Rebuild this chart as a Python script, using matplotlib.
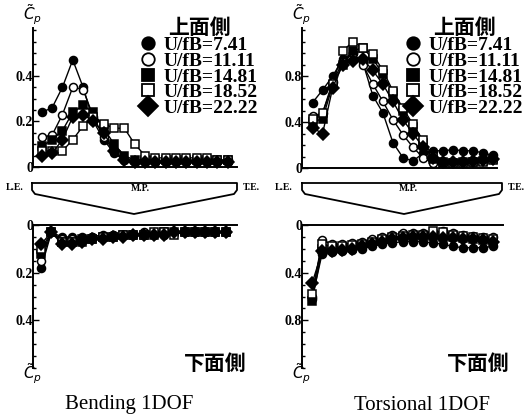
import matplotlib
matplotlib.use("Agg")
import matplotlib.pyplot as plt
from matplotlib.lines import Line2D
from matplotlib.font_manager import FontProperties
from matplotlib.ticker import MultipleLocator
import numpy as np

# pressure tap index (L.E. -> T.E.)
taps = np.arange(19)
labels = ["U/fB=7.41", "U/fB=11.11", "U/fB=14.81", "U/fB=18.52", "U/fB=22.22"]

# Bending 1DOF, upper surface
bend_up_741 = [0.24, 0.26, 0.35, 0.47, 0.35, 0.20, 0.12, 0.06, 0.03, 0.02, 0.02, 0.02, 0.02, 0.02, 0.02, 0.02, 0.02, 0.02, 0.02]
bend_up_1111 = [0.13, 0.14, 0.23, 0.35, 0.34, 0.22, 0.13, 0.07, 0.03, 0.02, 0.02, 0.02, 0.02, 0.03, 0.03, 0.03, 0.03, 0.03, 0.03]
bend_up_1481 = [0.09, 0.12, 0.16, 0.24, 0.27, 0.24, 0.17, 0.10, 0.05, 0.03, 0.03, 0.03, 0.03, 0.03, 0.03, 0.03, 0.03, 0.03, 0.03]
bend_up_1852 = [0.07, 0.07, 0.07, 0.12, 0.18, 0.22, 0.19, 0.17, 0.17, 0.10, 0.05, 0.04, 0.04, 0.04, 0.04, 0.04, 0.04, 0.03, 0.03]
bend_up_2222 = [0.05, 0.06, 0.12, 0.22, 0.23, 0.20, 0.15, 0.07, 0.03, 0.02, 0.02, 0.02, 0.02, 0.02, 0.02, 0.02, 0.02, 0.02, 0.02]

# Bending 1DOF, lower surface
bend_lo_741 = [0.18, 0.03, 0.05, 0.05, 0.05, 0.05, 0.04, 0.04, 0.04, 0.04, 0.04, 0.04, 0.04, 0.03, 0.03, 0.03, 0.03, 0.03, 0.03]
bend_lo_1111 = [0.15, 0.03, 0.06, 0.06, 0.06, 0.05, 0.05, 0.04, 0.04, 0.04, 0.03, 0.03, 0.03, 0.03, 0.03, 0.03, 0.03, 0.03, 0.03]
bend_lo_1481 = [0.12, 0.03, 0.07, 0.07, 0.06, 0.06, 0.05, 0.05, 0.04, 0.04, 0.04, 0.04, 0.03, 0.03, 0.03, 0.03, 0.03, 0.03, 0.03]
bend_lo_1852 = [0.10, 0.03, 0.07, 0.07, 0.07, 0.06, 0.05, 0.05, 0.04, 0.04, 0.04, 0.03, 0.03, 0.04, 0.03, 0.03, 0.03, 0.03, 0.03]
bend_lo_2222 = [0.08, 0.03, 0.08, 0.08, 0.07, 0.06, 0.06, 0.05, 0.05, 0.04, 0.04, 0.04, 0.04, 0.03, 0.03, 0.03, 0.03, 0.03, 0.03]

# Torsional 1DOF, upper surface
tors_up_741 = [0.57, 0.68, 0.80, 0.95, 1.00, 0.92, 0.63, 0.48, 0.22, 0.09, 0.06, 0.13, 0.15, 0.15, 0.16, 0.15, 0.15, 0.13, 0.11]
tors_up_1111 = [0.45, 0.48, 0.75, 0.92, 1.00, 0.90, 0.73, 0.58, 0.42, 0.29, 0.18, 0.09, 0.04, 0.04, 0.05, 0.05, 0.06, 0.07, 0.08]
tors_up_1481 = [0.40, 0.43, 0.72, 0.90, 1.02, 1.05, 0.95, 0.82, 0.65, 0.50, 0.36, 0.22, 0.08, 0.04, 0.04, 0.05, 0.05, 0.06, 0.08]
tors_up_1852 = [0.43, 0.48, 0.73, 1.02, 1.10, 1.05, 0.99, 0.85, 0.67, 0.52, 0.38, 0.24, 0.10, 0.05, 0.04, 0.04, 0.05, 0.05, 0.07]
tors_up_2222 = [0.35, 0.30, 0.70, 0.90, 0.93, 0.95, 0.85, 0.73, 0.58, 0.42, 0.30, 0.18, 0.09, 0.05, 0.05, 0.05, 0.06, 0.07, 0.08]

# Torsional 1DOF, lower surface
tors_lo_741 = [0.62, 0.24, 0.23, 0.22, 0.21, 0.20, 0.18, 0.16, 0.15, 0.14, 0.14, 0.14, 0.15, 0.16, 0.18, 0.19, 0.19, 0.19, 0.18]
tors_lo_1111 = [0.60, 0.13, 0.16, 0.16, 0.15, 0.14, 0.12, 0.10, 0.08, 0.07, 0.07, 0.07, 0.06, 0.05, 0.07, 0.08, 0.09, 0.10, 0.10]
tors_lo_1481 = [0.64, 0.20, 0.21, 0.20, 0.19, 0.17, 0.15, 0.13, 0.11, 0.10, 0.10, 0.09, 0.09, 0.10, 0.10, 0.11, 0.12, 0.13, 0.14]
tors_lo_1852 = [0.58, 0.16, 0.18, 0.18, 0.17, 0.16, 0.14, 0.12, 0.10, 0.09, 0.08, 0.08, 0.05, 0.06, 0.08, 0.09, 0.10, 0.11, 0.12]
tors_lo_2222 = [0.49, 0.22, 0.22, 0.21, 0.20, 0.18, 0.16, 0.14, 0.12, 0.11, 0.10, 0.10, 0.10, 0.11, 0.11, 0.12, 0.12, 0.13, 0.14]

bend_up = [bend_up_741, bend_up_1111, bend_up_1481, bend_up_1852, bend_up_2222]
bend_lo = [bend_lo_741, bend_lo_1111, bend_lo_1481, bend_lo_1852, bend_lo_2222]
tors_up = [tors_up_741, tors_up_1111, tors_up_1481, tors_up_1852, tors_up_2222]
tors_lo = [tors_lo_741, tors_lo_1111, tors_lo_1481, tors_lo_1852, tors_lo_2222]

markers = ["o", "o", "s", "s", "D"]
faces = ["black", "white", "black", "white", "black"]

serif = "Liberation Serif"
cjk = FontProperties(family="Noto Sans CJK JP", weight="bold", size=15)
W, H = 525, 420

fig = plt.figure(figsize=(5.25, 4.2), dpi=100)


def px_axes(x0, x1, y_top, y_bot):
  return fig.add_axes([x0 / W, 1 - y_bot / H, (x1 - x0) / W, (y_bot - y_top) / H])


def style(ax, minor, upper):
  for s in ["right", "top", "bottom", "left"]:
    ax.spines[s].set_visible(False)
  ax.spines["left"].set_visible(True)
  ax.spines["bottom" if upper else "top"].set_visible(True)
  for s in ax.spines.values():
    s.set_linewidth(1.4)
  ax.yaxis.set_minor_locator(MultipleLocator(minor))
  ax.tick_params(axis="y", which="both", direction="in", width=1.0, pad=0)
  ax.tick_params(axis="y", which="major", length=4)
  ax.tick_params(axis="y", which="minor", length=2.5)
  ax.set_xticks([])
  for t in ax.get_yticklabels():
    t.set_fontfamily(serif)
    t.set_fontweight("bold")
    t.set_fontsize(10)


def draw(ax, data, ms=5.8):
  for vals, m, fc in zip(data, markers, faces):
    ax.plot(taps, vals, color="black", lw=1.0, marker=m, ms=ms if m != "D" else ms + 0.5,
            mfc=fc, mec="black", mew=1.1, clip_on=False)


# upper panels
ax1 = px_axes(33, 237, 28, 167)
draw(ax1, bend_up)
ax1.set_xlim(-0.85, 18.9)
ax1.set_ylim(0, 0.61)
ax1.set_yticks([0, 0.2, 0.4], ["0", "0.2", "0.4"])
style(ax1, 0.05, True)

ax2 = px_axes(302, 497, 28, 168)
draw(ax2, tors_up)
ax2.set_xlim(-1.05, 18.35)
ax2.set_ylim(0, 1.22)
ax2.set_yticks([0, 0.4, 0.8], ["0", "0.4", "0.8"])
style(ax2, 0.1, True)

# lower panels (inverted)
ax3 = px_axes(33, 237, 225, 368)
draw(ax3, bend_lo)
ax3.set_xlim(-0.8, 19.1)
ax3.set_ylim(0.6, 0)
ax3.set_yticks([0, 0.2, 0.4], ["0", "0.2", "0.4"])
style(ax3, 0.05, False)

ax4 = px_axes(302, 503, 225, 368)
draw(ax4, tors_lo)
ax4.set_xlim(-1.0, 19.0)
ax4.set_ylim(1.2, 0)
ax4.set_yticks([0, 0.4, 0.8], ["0", "0.4", "0.8"])
style(ax4, 0.1, False)

# legends
handles = [Line2D([], [], ls="none", marker=m, ms=9 if m != "D" else 10, mfc=fc, mec="black", mew=1.3)
           for m, fc in zip(markers, faces)]
for ax, xr in [(ax1, 258), (ax2, 523)]:
  leg = ax.legend(handles, labels, loc="upper right", bbox_to_anchor=(xr / W, 1 - 17 / H),
                  bbox_transform=fig.transFigure, frameon=False, borderpad=0, borderaxespad=0,
                  handlelength=0.7, handletextpad=0.45, labelspacing=-0.1,
                  prop=FontProperties(family=serif, weight="bold", size=14),
                  title="上面側", title_fontproperties=cjk)
  leg._legend_box.sep = -1

# Cp labels
for x, y in [(33, 15), (302, 15), (33, 374), (302, 374)]:
  fig.text(x / W, 1 - y / H, r"$\tilde{C}_p$", fontsize=11, ha="center", va="center")

fig.text(215 / W, 1 - 363 / H, "下面側", fontproperties=cjk, ha="center", va="center")
fig.text(478 / W, 1 - 363 / H, "下面側", fontproperties=cjk, ha="center", va="center")

fig.text(129 / W, 1 - 405 / H, "Bending 1DOF", fontfamily=serif, fontsize=15, ha="center", va="center")
fig.text(422 / W, 1 - 405 / H, "Torsional 1DOF", fontfamily=serif, fontsize=15, ha="center", va="center")

# section sketch between the panels
for x0, x1, xm, le_x, te_x in [(32, 237, 134, 15, 251), (302, 502, 404, 284, 516)]:
  xs = np.array([x0, x0, x0 + 3, xm, x1 - 3, x1, x1, x0]) / W
  ys = 1 - np.array([183, 190, 194, 214, 194, 190, 183, 183]) / H
  fig.add_artist(Line2D(xs, ys, color="black", lw=1.3))
  fig.text(le_x / W, 1 - 188 / H, "L.E.", fontfamily=serif, fontweight="bold", fontsize=7, ha="center", va="center")
  fig.text(te_x / W, 1 - 188 / H, "T.E.", fontfamily=serif, fontweight="bold", fontsize=7, ha="center", va="center")
  fig.text((x0 + x1) / 2 / W + 6 / W, 1 - 189 / H, "M.P.", fontfamily=serif, fontweight="bold", fontsize=7, ha="center", va="center")

fig.savefig("out.png", dpi=100)
